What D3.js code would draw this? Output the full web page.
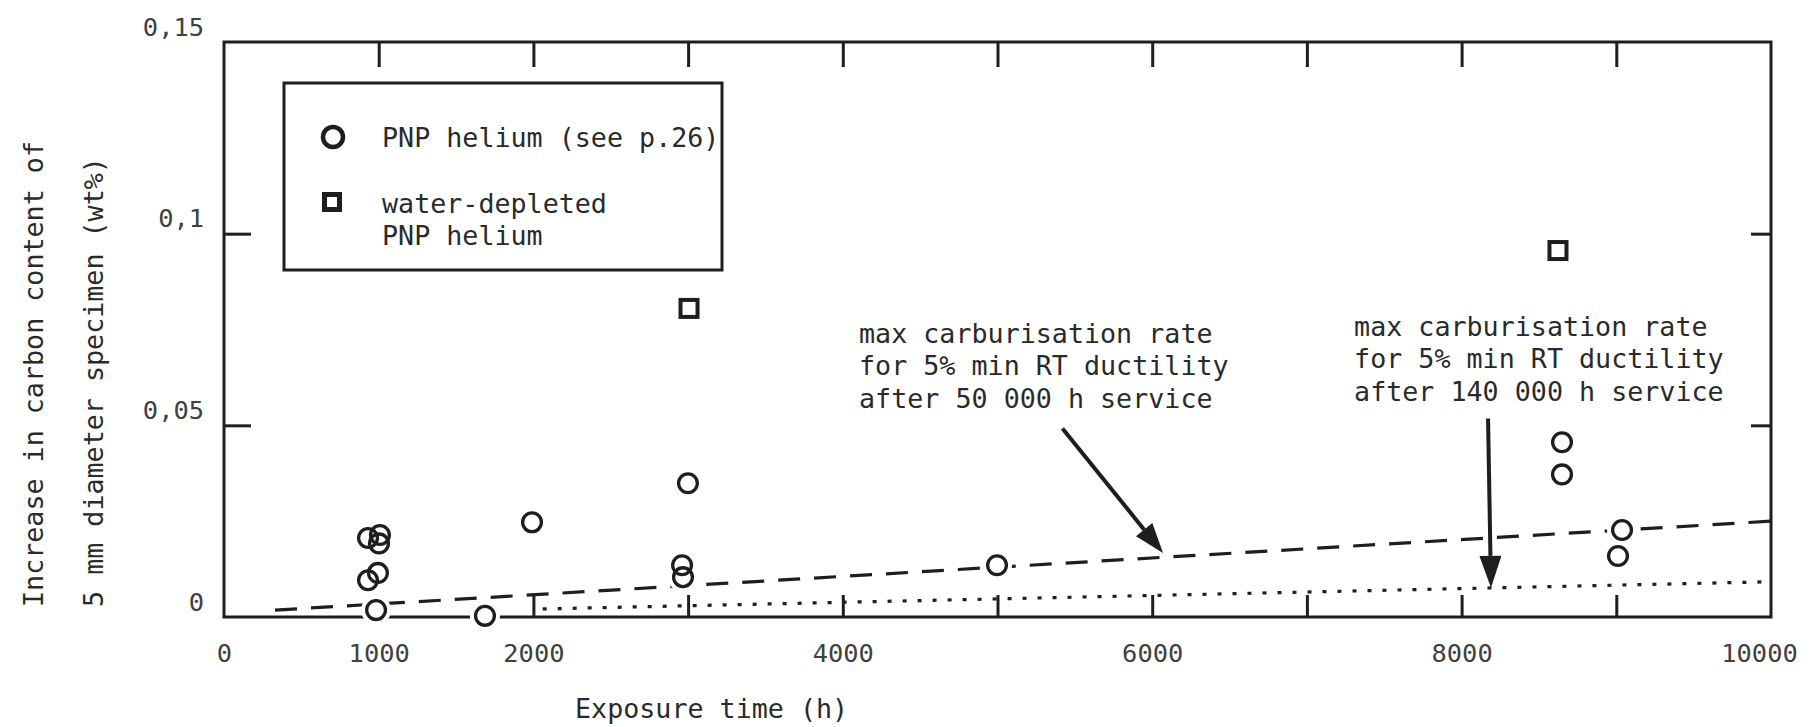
<!DOCTYPE html>
<html><head><meta charset="utf-8">
<script src="https://cdn.jsdelivr.net/npm/d3@7"></script>
<style>
html,body{margin:0;padding:0;background:#fff;}
svg{display:block;}
text{font-family:"DejaVu Sans Mono","Liberation Mono",monospace;}
</style></head>
<body><svg id="chart" width="1810" height="727"></svg>
<script>
// Carbon pick-up of 5 mm specimens versus exposure time
const pnpHours  = [983, 931, 1008, 1002, 931, 995, 1687, 1991, 2961, 2967, 2999, 4997, 8649, 8649, 9037, 9011];
const pnpCarbon = [0.0018, 0.0206, 0.0214, 0.0192, 0.0096, 0.0115, 0.0003, 0.0247, 0.0135, 0.0104, 0.0349, 0.0135, 0.0456, 0.0372, 0.0227, 0.0159];
const dryHours  = [3006, 8623];
const dryCarbon = [0.0805, 0.0956];

// Limit lines: max carburisation rate for 5 % min RT ductility
const limit50kHours   = [330, 10000];
const limit50kCarbon  = [0.0018, 0.0250];
const limit140kHours  = [2060, 10000];
const limit140kCarbon = [0.0021, 0.0092];

// Axis ticks and labels
const xLabelValues = [0, 1000, 2000, 4000, 6000, 8000, 10000];
const xLabels      = ["0", "1000", "2000", "4000", "6000", "8000", "10000"];
const xTopTicks    = [1000, 2000, 3000, 4000, 5000, 6000, 7000, 8000, 9000];
const xBottomTicks = [2000, 3000, 4000, 5000, 6000, 7000, 8000, 9000];
const yLabelValues = [0, 0.05, 0.1, 0.15];
const yLabels      = ["0", "0,05", "0,1", "0,15"];
const ySideTicks   = [0.05, 0.1];

// Annotations (anchor and arrow given in data units)
const note50kLines  = ["max carburisation rate", "for 5% min RT ductility", "after 50 000 h service"];
const note50kAnchor = [4105, 0.0716];
const arrow50k      = [[5420, 0.0492], [6070, 0.0167]];
const note140kLines  = ["max carburisation rate", "for 5% min RT ductility", "after 140 000 h service"];
const note140kAnchor = [7305, 0.0734];
const arrow140k      = [[8171, 0.0518], [8190, 0.0076]];

const legendLabels = [["PNP helium (see p.26)"], ["water-depleted", "PNP helium"]];

const ink = "#1e1e1e";
const svg = d3.select("#chart");

const x = d3.scaleLinear().domain([0, 10000]).range([224, 1771]);
const y = d3.scaleLinear().domain([0, 0.15]).range([617, 42]);

// Plot frame
svg.append("rect")
  .attr("x", x(0)).attr("y", y(0.15))
  .attr("width", x(10000) - x(0)).attr("height", y(0) - y(0.15))
  .attr("fill", "none").attr("stroke", ink).attr("stroke-width", 3);

function styleTicks(g) {
  g.select(".domain").remove();
  g.selectAll(".tick line").attr("stroke", ink).attr("stroke-width", 3);
}
// Inward ticks on all four sides
svg.append("g").attr("transform", `translate(0,${y(0)})`)
  .call(d3.axisTop(x).tickValues(xBottomTicks).tickFormat("").tickSize(22)).call(styleTicks);
svg.append("g").attr("transform", `translate(0,${y(0.15)})`)
  .call(d3.axisBottom(x).tickValues(xTopTicks).tickFormat("").tickSize(25)).call(styleTicks);
svg.append("g").attr("transform", `translate(${x(0)},0)`)
  .call(d3.axisRight(y).tickValues(ySideTicks).tickFormat("").tickSize(27)).call(styleTicks);
svg.append("g").attr("transform", `translate(${x(10000)},0)`)
  .call(d3.axisLeft(y).tickValues(ySideTicks).tickFormat("").tickSize(20)).call(styleTicks);

// Tick labels
const gxl = svg.append("g").attr("transform", `translate(0,${y(0)})`)
  .call(d3.axisBottom(x).tickValues(xLabelValues).tickFormat((d, i) => xLabels[i]).tickSize(0).tickPadding(0));
gxl.select(".domain").remove();
gxl.selectAll("text").attr("y", 45).attr("dy", null)
  .attr("dx", d => d === 10000 ? -12 : 0)
  .style("font-family", '"DejaVu Sans Mono",monospace').style("font-size", "25.4px").attr("fill", "#404040");

const gyl = svg.append("g").attr("transform", "translate(204,0)")
  .call(d3.axisLeft(y).tickValues(yLabelValues).tickFormat((d, i) => yLabels[i]).tickSize(0).tickPadding(0));
gyl.select(".domain").remove();
gyl.selectAll("text").attr("y", -7).attr("dy", null)
  .style("font-family", '"DejaVu Sans Mono",monospace').style("font-size", "25.4px").attr("fill", "#404040");

// Limit lines
const line = d3.line().x(d => x(d[0])).y(d => y(d[1]));
svg.append("path")
  .datum(d3.zip(limit50kHours, limit50kCarbon))
  .attr("d", line).attr("fill", "none").attr("stroke", ink)
  .attr("stroke-width", 3.2).attr("stroke-dasharray", "22,14");
svg.append("path")
  .datum(d3.zip(limit140kHours, limit140kCarbon))
  .attr("d", line).attr("fill", "none").attr("stroke", ink)
  .attr("stroke-width", 3.2).attr("stroke-dasharray", "4,11");

// Data points: white knock-out behind each marker, then outlines
const pnp = d3.zip(pnpHours, pnpCarbon);
const dry = d3.zip(dryHours, dryCarbon);
svg.append("g").selectAll("circle").data(pnp.concat(dry)).join("circle")
  .attr("cx", d => x(d[0])).attr("cy", d => y(d[1])).attr("r", 15).attr("fill", "#fff");
svg.append("g").selectAll("circle").data(pnp).join("circle")
  .attr("cx", d => x(d[0])).attr("cy", d => y(d[1])).attr("r", 9.4)
  .attr("fill", "none").attr("stroke", ink).attr("stroke-width", 3.3);
const sq = 17;
svg.append("g").selectAll("rect").data(dry).join("rect")
  .attr("x", d => x(d[0]) - sq / 2).attr("y", d => y(d[1]) - sq / 2)
  .attr("width", sq).attr("height", sq)
  .attr("fill", "#fff").attr("stroke", ink).attr("stroke-width", 4);

// Arrows
function drawArrow(pts, headLen, headWidth) {
  const x0 = x(pts[0][0]), y0 = y(pts[0][1]), x1 = x(pts[1][0]), y1 = y(pts[1][1]);
  const a = Math.atan2(y1 - y0, x1 - x0);
  const bx = x1 - headLen * Math.cos(a), by = y1 - headLen * Math.sin(a);
  const px = -Math.sin(a) * headWidth / 2, py = Math.cos(a) * headWidth / 2;
  svg.append("line").attr("x1", x0).attr("y1", y0).attr("x2", bx).attr("y2", by)
    .attr("stroke", ink).attr("stroke-width", 4);
  svg.append("path")
    .attr("d", `M${x1},${y1}L${bx + px},${by + py}L${bx - px},${by - py}Z`)
    .attr("fill", ink);
}
drawArrow(arrow50k, 30, 21);
drawArrow(arrow140k, 32, 22);

// Annotation text
function drawNote(lines, anchor) {
  const t = svg.append("text").attr("x", x(anchor[0])).attr("y", y(anchor[1]))
    .style("font-size", "26.7px").attr("fill", "#2a2a2a");
  lines.forEach((s, i) => t.append("tspan").attr("x", x(anchor[0])).attr("dy", i ? 32.5 : 0).text(s));
}
drawNote(note50kLines, note50kAnchor);
drawNote(note140kLines, note140kAnchor);

// Legend
const lg = svg.append("g");
lg.append("rect").attr("x", 284).attr("y", 83).attr("width", 438).attr("height", 187)
  .attr("fill", "#fff").attr("stroke", ink).attr("stroke-width", 3);
lg.append("circle").attr("cx", 333).attr("cy", 137).attr("r", 10)
  .attr("fill", "none").attr("stroke", ink).attr("stroke-width", 4.5);
lg.append("rect").attr("x", 332 - 7.5).attr("y", 202 - 7.5).attr("width", 15).attr("height", 15)
  .attr("fill", "none").attr("stroke", ink).attr("stroke-width", 5);
const legendBase = [147, 213];
legendLabels.forEach((lines, k) => {
  const t = lg.append("text").attr("x", 382).attr("y", legendBase[k])
    .style("font-size", "26.7px").attr("fill", "#2a2a2a");
  lines.forEach((s, i) => t.append("tspan").attr("x", 382).attr("dy", i ? 32 : 0).text(s));
});

// Axis titles
svg.append("text").attr("x", 575).attr("y", 718)
  .style("font-size", "26.7px").attr("fill", "#2a2a2a").text("Exposure time (h)");
const yt = svg.append("g").attr("transform", "translate(43,607) rotate(-90)");
yt.append("text").attr("x", 0).attr("y", 0)
  .style("font-size", "26.7px").attr("fill", "#2a2a2a").text("Increase in carbon content of");
yt.append("text").attr("x", 0).attr("y", 60)
  .style("font-size", "26.7px").attr("fill", "#2a2a2a").text("5 mm diameter specimen (wt%)");
</script>
</body></html>
